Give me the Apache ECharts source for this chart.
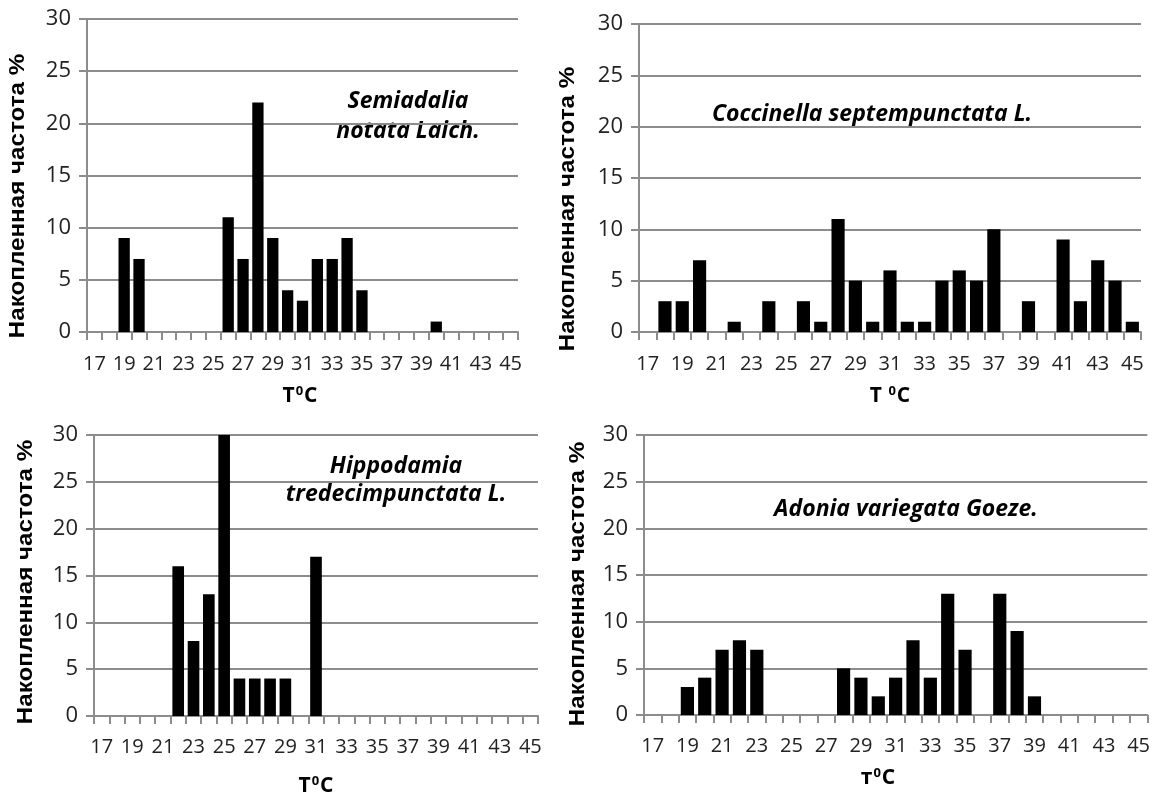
<!DOCTYPE html>
<html>
<head>
<meta charset="utf-8">
<script src="https://cdn.jsdelivr.net/npm/echarts@6/dist/echarts.min.js"></script>
<style>
html,body{margin:0;padding:0;background:#fff;}
#chart{width:1153px;height:795px;}
</style>
</head>
<body>
<div id="chart"></div>
<script>
var categories = ['17','18','19','20','21','22','23','24','25','26','27','28','29','30','31','32','33','34','35','36','37','38','39','40','41','42','43','44','45'];
var semiadalia  = [0,0,9,7,0,0,0,0,0,11,7,22,9,4,3,7,7,9,4,0,0,0,0,1,0,0,0,0,0];
var coccinella  = [0,3,3,7,0,1,0,3,0,3,1,11,5,1,6,1,1,5,6,5,10,0,3,0,9,3,7,5,1];
var hippodamia  = [0,0,0,0,0,16,8,13,30,4,4,4,4,0,17,0,0,0,0,0,0,0,0,0,0,0,0,0,0];
var adonia      = [0,0,3,4,7,8,7,0,0,0,0,5,4,2,4,8,4,13,7,0,13,9,2,0,0,0,0,0,0];
var yTicks = [0,5,10,15,20,25,30];
var titles = ['Semiadalia\nnotata Laich.', 'Coccinella septempunctata L.', 'Hippodamia\ntredecimpunctata L.', 'Adonia variegata Goeze.'];
var yName = 'Накопленная частота %';
var xNames = [['T','0','C'], ['T ','0','C'], ['T','0','C'], ['т','0','C']];

var FONT = '"Open Sans", "Noto Sans", sans-serif';
var grids = [
  {left:87, top:19, width:431, height:313},
  {left:639, top:24, width:502, height:308},
  {left:94, top:435, width:444, height:281},
  {left:644, top:435, width:505, height:280}
];
var seriesData = [semiadalia, coccinella, hippodamia, adonia];
var gridColor = '#8c8c8c';

var xAxes = [], yAxes = [], series = [];
for (var i = 0; i < 4; i++) {
  xAxes.push({
    type:'category', gridIndex:i, data:categories, boundaryGap:true,
    axisLine:{show:true, lineStyle:{color:gridColor, width:2}},
    axisTick:{show:true, interval:0, length:8, alignWithLabel:false, lineStyle:{color:gridColor, width:2}},
    axisLabel:{interval:1, margin: i < 2 ? 22 : 21, fontFamily:FONT, fontSize:20, color:'#222'},
    splitLine:{show:false}
  });
  yAxes.push({
    type:'value', gridIndex:i, min:yTicks[0], max:yTicks[yTicks.length-1], interval:5,
    axisLine:{show:true, lineStyle:{color:gridColor, width:2}},
    axisTick:{show:true, length:8, lineStyle:{color:gridColor, width:2}},
    axisLabel:{margin:16, fontFamily:FONT, fontSize:22, color:'#222'},
    splitLine:{show:true, lineStyle:{color:gridColor, width:2}}
  });
  series.push({
    type:'bar', xAxisIndex:i, yAxisIndex:i, data:seriesData[i],
    barCategoryGap:'24%', itemStyle:{color:'#000'}, silent:true, animation:false
  });
}

var titlePos = [[408,116],[872,114],[396,480],[906,509]];
var titleLH = [30, 30, 28, 30];
var xNamePos = [[300,396],[890,396],[316,786],[878,778]];
var yNamePos = [[18,196],[568,209],[26,582],[578,584]];
var yNameFont = '"Liberation Sans", Arial, sans-serif';

var graphics = [];
for (var j = 0; j < 4; j++) {
  graphics.push({
    type:'text', x:titlePos[j][0], y:titlePos[j][1], silent:true,
    style:{text:titles[j], fill:'#000', fontFamily:FONT, fontSize:23, fontWeight:'bold', fontStyle:'italic',
      align:'center', verticalAlign:'middle', lineHeight:titleLH[j]}
  });
  graphics.push({
    type:'text', x:xNamePos[j][0], y:xNamePos[j][1], silent:true,
    style:{text:'{b|' + xNames[j][0] + '}{s|' + xNames[j][1] + '}{b|' + xNames[j][2] + '}',
      align:'center', verticalAlign:'middle',
      rich:{
        b:{fontFamily:FONT, fontSize:21, fontWeight:'bold', fill:'#000', color:'#000'},
        s:{fontFamily:FONT, fontSize:13, fontWeight:'bold', fill:'#000', color:'#000', padding:[0,1,10,1]}
      }}
  });
  graphics.push({
    type:'text', x:yNamePos[j][0], y:yNamePos[j][1], rotation:Math.PI/2, scaleX:1.1, silent:true,
    style:{text:yName, fill:'#000', fontFamily:yNameFont, fontSize:22, fontWeight:'bold',
      align:'center', verticalAlign:'middle'}
  });
}

var chart = echarts.init(document.getElementById('chart'), null, {renderer:'canvas'});
chart.setOption({
  animation:false,
  backgroundColor:'#fff',
  grid:grids,
  xAxis:xAxes,
  yAxis:yAxes,
  series:series,
  graphic:graphics
});
</script>
</body>
</html>
